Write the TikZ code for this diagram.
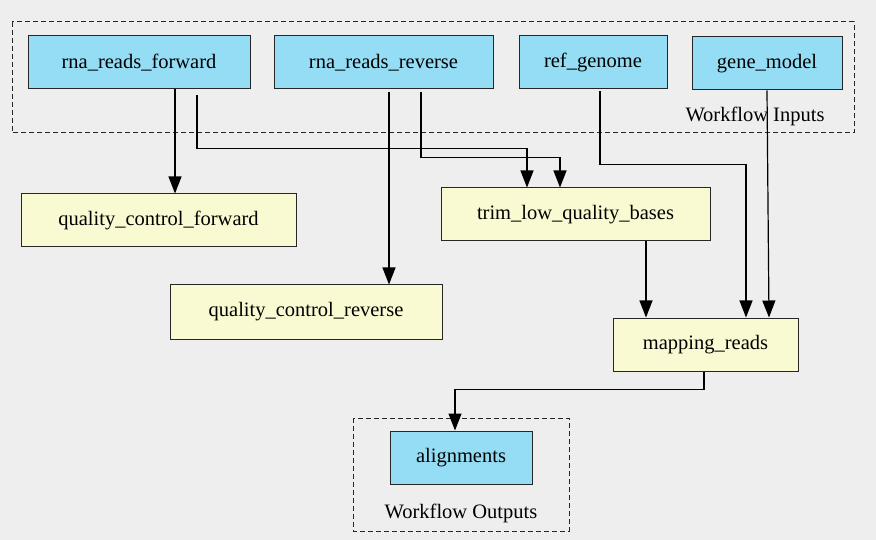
\documentclass[tikz,border=0pt]{standalone}
\usepackage{fontspec}
\setmainfont{Liberation Serif}
\usetikzlibrary{arrows.meta}
\definecolor{inblue}{HTML}{94DDF4}
\definecolor{stepyellow}{HTML}{FAFAD2}
\definecolor{bggray}{HTML}{EEEEEE}

\begin{document}
\begin{tikzpicture}[x=1pt,y=-1pt,
    box/.style={draw=black!85,line width=1pt,inner sep=0pt,font=\fontsize{20.5}{24}\selectfont},
    inputnode/.style={box,fill=inblue},
    stepnode/.style={box,fill=stepyellow},
    edge/.style={line width=1.2pt,-{Triangle[length=17pt,width=13pt]}},
    cluster/.style={draw=black!85,line width=1pt,dash pattern=on 5pt off 3pt},
    clabel/.style={inner sep=0pt,font=\fontsize{20.5}{24}\selectfont}]
      \useasboundingbox(0,0)rectangle(876,540);
      \fill[bggray](0,0)rectangle(876,540);
      % clusters
      \draw[cluster](12,22)rectangle(854,133);
      \node[clabel](inlabel)at(755,116){Workflow Inputs};
      \draw[cluster](353,418)rectangle(569,531);
      \node[clabel](outlabel)at(461,513){Workflow Outputs};
      % inputs
      \node[inputnode,minimum width=222,minimum height=53](fwd)at(139,62.5){rna\_reads\_forward};
      \node[inputnode,minimum width=219,minimum height=53](rev)at(383.5,62.5){rna\_reads\_reverse};
      \node[inputnode,minimum width=148,minimum height=53](ref)at(593,62.5){ref\_genome};
      \node[inputnode,minimum width=150,minimum height=53](gene)at(767,63.5){gene\_model};
      % steps
      \node[stepnode,minimum width=275,minimum height=53](qcf)at(158.5,220.5){quality\_control\_forward};
      \node[stepnode,minimum width=269,minimum height=53](trim)at(575.5,214.5){trim\_low\_quality\_bases};
      \node[stepnode,minimum width=272,minimum height=54](qcr)at(306,312){quality\_control\_reverse};
      \node[stepnode,minimum width=185,minimum height=53](map)at(705.5,344.5){mapping\_reads};
      % outputs
      \node[inputnode,minimum width=142,minimum height=53](aln)at(461,457.5){alignments};
      % ports
      \coordinate(f1)at([xshift=36]fwd.south);\coordinate(f2)at([xshift=58,yshift=-6]fwd.south);
      \coordinate(r1)at([xshift=5.5,yshift=-3]rev.south);\coordinate(r2)at([xshift=37.5,yshift=-3]rev.south);
      \coordinate(g1)at([xshift=7,yshift=-2]ref.south);
      \coordinate(t1)at([xshift=70.5]trim.south);
      \coordinate(m1)at([xshift=-1.5]map.south);
      % connectors
      \draw[edge](f1)--(f1|-qcf.north);
      \draw[edge](f2)--++(0,53)-|([xshift=-48.5]trim.north);
      \draw[edge](r1)--(r1|-qcr.north);
      \draw[edge](r2)--++(0,65)-|([xshift=-15.5]trim.north);
      \draw[edge](g1)--++(0,73)-|([xshift=40.5]map.north);
      \draw[edge](gene.south)--([xshift=63.5]map.north);
      \draw[edge](t1)--(t1|-map.north);
      \draw[edge](m1)--++(0,18)-|([xshift=-6]aln.north);
    \end{tikzpicture}
\end{document}
